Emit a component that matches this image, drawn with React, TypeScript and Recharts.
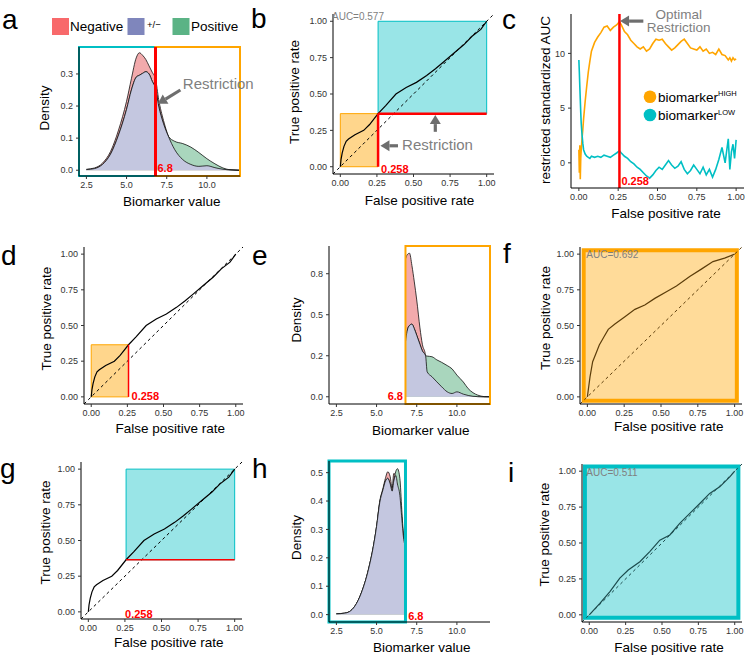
import React from 'react';
import {
  ComposedChart,
  Line,
  Area,
  XAxis,
  YAxis,
  ReferenceArea,
  ReferenceLine,
  ReferenceDot,
} from 'recharts';

const FONT = '"Liberation Sans", Arial, Helvetica, sans-serif';

const NEG = '#F8696B';
const MIX = '#7F86BC';
const POS = '#5BB385';
const NEG_FILL = '#F2AAAC';
const MIX_FILL = '#C4C7E0';
const POS_FILL = '#A9D6BD';
const ORANGE = '#FFA500';
const CYAN = '#00BFC4';
const RED = '#FF0000';
const GREY = '#7F7F7F';
const ARROW = '#6E6E6E';
// curve colours as seen through the tinted panels
const UNDER_ORANGE = '#5C3D0A';
const UNDER_CYAN = '#1B4B4D';

// restriction found by the sweep
const cutValue = 6.8;
const cutFpr = 0.258;
const cutTpr = 0.365;
const aucAll = '0.577';
const aucHigh = '0.692';
const aucLow = '0.511';

// tick positions and labels
const valueTicks = [2.5, 5, 7.5, 10];
const valueTickLabels = ['2.5', '5.0', '7.5', '10.0'];
const rateTicks = [0, 0.25, 0.5, 0.75, 1];
const rateTickLabels = ['0.00', '0.25', '0.50', '0.75', '1.00'];
const aDensTicks = [0, 0.1, 0.2, 0.3];
const aDensTickLabels = ['0.0', '0.1', '0.2', '0.3'];
const eDensTicks = [0, 0.25, 0.5, 0.75];
const eDensTickLabels = ['0.0', '0.2', '0.5', '0.8'];
const hDensTicks = [0, 0.1, 0.2, 0.3, 0.4, 0.5];
const hDensTickLabels = ['0.0', '0.1', '0.2', '0.3', '0.4', '0.5'];
const sweepTicks = [0, 5, 10];
const sweepTickLabels = ['0', '5', '10'];

// a: densities over all biomarker values
const densX = [2.5, 3.0, 3.5, 4.0, 4.5, 5.0, 5.3, 5.6, 5.8, 6.0, 6.2, 6.4, 6.6, 6.8, 7.0, 7.3, 7.6, 8.0, 8.5, 9.0, 9.5, 10.0, 10.5, 11.0, 11.5, 12.0];
const densNeg = [0.003, 0.007, 0.022, 0.058, 0.125, 0.215, 0.285, 0.35, 0.366, 0.358, 0.345, 0.325, 0.305, 0.285, 0.22, 0.155, 0.106, 0.064, 0.033, 0.018, 0.012, 0.014, 0.008, 0.003, 0.001, 0];
const densPos = [0.002, 0.005, 0.018, 0.05, 0.11, 0.19, 0.25, 0.29, 0.296, 0.302, 0.307, 0.3, 0.277, 0.255, 0.2, 0.145, 0.106, 0.09, 0.083, 0.072, 0.055, 0.036, 0.02, 0.007, 0.001, 0];
const densMix = [0.002, 0.005, 0.018, 0.05, 0.11, 0.19, 0.25, 0.29, 0.296, 0.302, 0.307, 0.3, 0.277, 0.255, 0.2, 0.145, 0.106, 0.064, 0.033, 0.018, 0.012, 0.014, 0.008, 0.003, 0.001, 0];

// e: densities above the cut
const eX = [6.8, 6.9, 7.05, 7.2, 7.35, 7.5, 7.7, 7.85, 8.05, 8.15, 8.45, 8.75, 9.05, 9.4, 9.7, 10.0, 10.4, 10.7, 11.0, 11.3, 11.7, 12.0];
const eNeg = [0.84, 0.865, 0.875, 0.8, 0.7, 0.59, 0.42, 0.32, 0.25, 0.152, 0.122, 0.091, 0.061, 0.03, 0.02, 0.03, 0.016, 0.008, 0.003, 0.001, 0, 0];
const ePos = [0.335, 0.4, 0.435, 0.443, 0.415, 0.375, 0.32, 0.28, 0.25, 0.248, 0.244, 0.225, 0.21, 0.19, 0.17, 0.132, 0.09, 0.05, 0.025, 0.01, 0.001, 0];
const eMix = [0.335, 0.4, 0.435, 0.443, 0.415, 0.375, 0.32, 0.28, 0.25, 0.152, 0.122, 0.091, 0.061, 0.03, 0.02, 0.03, 0.016, 0.008, 0.003, 0.001, 0, 0];

// h: densities below the cut
const hX = [2.5, 3.0, 3.3, 3.65, 4.05, 4.5, 4.8, 5.0, 5.2, 5.4, 5.55, 5.7, 5.85, 5.97, 6.07, 6.2, 6.3, 6.45, 6.57, 6.68, 6.8];
const hNeg = [0.003, 0.005, 0.01, 0.03, 0.076, 0.16, 0.24, 0.31, 0.4, 0.445, 0.48, 0.503, 0.485, 0.445, 0.497, 0.49, 0.46, 0.42, 0.34, 0.27, 0.24];
const hPos = [0.003, 0.005, 0.01, 0.03, 0.076, 0.16, 0.24, 0.31, 0.395, 0.44, 0.47, 0.48, 0.46, 0.435, 0.47, 0.505, 0.514, 0.48, 0.37, 0.28, 0.25];
const hMix = [0.003, 0.005, 0.01, 0.03, 0.076, 0.16, 0.24, 0.31, 0.395, 0.44, 0.47, 0.48, 0.46, 0.435, 0.47, 0.49, 0.46, 0.42, 0.34, 0.27, 0.24];

// b, d, g: full ROC curve
const rocFpr = [0, 0.005, 0.013, 0.025, 0.04, 0.056, 0.1, 0.16, 0.2, 0.258, 0.31, 0.38, 0.45, 0.52, 0.59, 0.65, 0.705, 0.775, 0.845, 0.9, 0.96, 1];
const rocTpr = [0, 0.05, 0.095, 0.14, 0.175, 0.19, 0.22, 0.25, 0.29, 0.365, 0.42, 0.5, 0.545, 0.58, 0.627, 0.674, 0.72, 0.78, 0.84, 0.897, 0.944, 1];

// f: ROC of the high part
const highFpr = [0, 0.018, 0.036, 0.063, 0.081, 0.113, 0.142, 0.187, 0.255, 0.323, 0.39, 0.458, 0.537, 0.605, 0.695, 0.774, 0.853, 0.932, 1];
const highTpr = [0, 0.14, 0.246, 0.316, 0.363, 0.421, 0.473, 0.51, 0.562, 0.613, 0.644, 0.69, 0.737, 0.777, 0.843, 0.895, 0.948, 0.972, 1];

// i: ROC of the low part
const lowFpr = [0, 0.073, 0.142, 0.21, 0.268, 0.348, 0.416, 0.485, 0.554, 0.622, 0.691, 0.76, 0.828, 0.897, 0.966, 1];
const lowTpr = [0, 0.08, 0.162, 0.255, 0.312, 0.37, 0.44, 0.52, 0.556, 0.637, 0.706, 0.775, 0.845, 0.891, 0.96, 1];

// c: restricted standardized AUC along the FPR sweep
const sweepFpr = [0, 0.003, 0.006, 0.009, 0.012, 0.015, 0.02, 0.025, 0.03, 0.04,
  0.05, 0.06, 0.07, 0.08, 0.1, 0.12, 0.14, 0.16, 0.18, 0.2,
  0.22, 0.24, 0.258, 0.27, 0.29, 0.31, 0.33, 0.35, 0.37, 0.39,
  0.41, 0.43, 0.45, 0.47, 0.49, 0.51, 0.53, 0.55, 0.57, 0.59,
  0.61, 0.63, 0.65, 0.67, 0.69, 0.71, 0.73, 0.75, 0.77, 0.79,
  0.81, 0.83, 0.85, 0.87, 0.89, 0.91, 0.93, 0.95, 0.96, 0.97,
  0.98, 0.99, 1.0];
const sweepHigh = [1.2, -0.9, 1.6, -1.5, 0.4, 1.2, 2.2, 3.0, 4.0, 5.6,
  7.0, 8.3, 9.3, 10.2, 11.0, 11.5, 11.9, 12.4, 12.5, 12.1,
  12.4, 12.6, 12.9, 12.6, 12.0, 11.7, 11.2, 10.9, 10.6, 10.4,
  10.6, 10.2, 10.4, 10.9, 11.3, 11.2, 11.3, 10.9, 10.6, 10.3,
  10.5, 10.8, 11.1, 11.3, 10.9, 10.5, 10.4, 10.3, 10.6, 10.2,
  10.4, 10.0, 10.1, 9.9, 10.4, 9.9, 9.8, 9.4, 9.6, 9.3,
  9.6, 9.4, 9.5];
const sweepLow = [9.4, 8.3, 7.0, 5.8, 4.6, 3.6, 2.6, 1.8, 1.2, 0.8,
  0.6, 0.5, 0.4, 0.6, 0.5, 0.6, 0.5, 0.7, 0.6, 0.5,
  0.7, 0.9, 1.1, 0.9, 0.6, 0.4, 0.1, -0.1, -0.4, -0.6,
  -0.9, -1.2, -1.4, -1.1, -0.7, -0.4, -0.6, -0.2, 0.2, -0.2,
  -0.5, -0.3, 0.1, -0.6, -1.0, -0.7, -0.2, -0.6, -1.0, -0.4,
  -1.1, -0.6, -1.3, -0.6, 0.3, 1.4, 0.0, 2.2, -0.6, 1.0,
  1.7, 0.4, 2.1];

const densTable = densX.map((x, i) => ({ x, neg: densNeg[i], pos: densPos[i], mix: densMix[i] }));
const eTable = eX.map((x, i) => ({ x, neg: eNeg[i], pos: ePos[i], mix: eMix[i] }));
const hTable = hX.map((x, i) => ({ x, neg: hNeg[i], pos: hPos[i], mix: hMix[i] }));
const rocTable = rocFpr.map((x, i) => ({ x, tpr: rocTpr[i] }));
const highTable = highFpr.map((x, i) => ({ x, tpr: highTpr[i] }));
const lowTable = lowFpr.map((x, i) => ({ x, tpr: lowTpr[i] }));
const sweepTable = sweepFpr.map((x, i) => ({ x, high: sweepHigh[i], low: sweepLow[i] }));

const valueDomain = [2.04, 12.06];
const rateDomain = [-0.05, 1.05];

function arrowShape(p: any) {
  const { x1, y1, x2, y2 } = p;
  const a = Math.atan2(y2 - y1, x2 - x1);
  const head = 9;
  const half = 5.5;
  const bx = x2 - head * Math.cos(a);
  const by = y2 - head * Math.sin(a);
  const nx = -Math.sin(a) * half;
  const ny = Math.cos(a) * half;
  return (
    <g>
      <line x1={x1} y1={y1} x2={bx} y2={by} stroke={ARROW} strokeWidth={3.2} />
      <polygon points={`${x2},${y2} ${bx + nx},${by + ny} ${bx - nx},${by - ny}`} fill={ARROW} />
    </g>
  );
}

// text placed at a data point, nudged by dx/dy pixels
function note(label: string, dx: number, dy: number, style: any) {
  return (p: any) => (
    <text x={p.cx + dx} y={p.cy + dy} fontFamily={FONT} {...style}>
      {label}
    </text>
  );
}

const redLabel = { fill: RED, fontSize: 11, fontWeight: 'bold' };
const aucLabel = { fill: GREY, fontSize: 10 };

function Frame({ box, data, xDomain, yDomain, xTicks, xLabels, yTicks, yLabels, children }: any) {
  const [x0, y0, x1, y1] = box;
  const L = 45;
  const T = 30;
  const R = 30;
  const B = 25;
  const tick = { fontSize: 9, fill: '#333', fontFamily: FONT };
  return (
    <div style={{ position: 'absolute', left: x0 - L, top: y0 - T }}>
      <ComposedChart
        width={x1 - x0 + L + R}
        height={y1 - y0 + T + B}
        data={data}
        margin={{ top: T, right: R, bottom: 5, left: 5 }}
      >
        <XAxis
          type="number"
          dataKey="x"
          domain={xDomain}
          ticks={xTicks}
          interval={0}
          allowDataOverflow
          height={20}
          tickFormatter={(v: number) => xLabels[xTicks.indexOf(v)]}
          axisLine={{ stroke: '#000' }}
          tickLine={{ stroke: '#333' }}
          tickSize={3}
          tickMargin={3}
          tick={tick}
        />
        <YAxis
          type="number"
          domain={yDomain}
          ticks={yTicks}
          interval={0}
          allowDataOverflow
          width={40}
          tickFormatter={(v: number) => yLabels[yTicks.indexOf(v)]}
          axisLine={{ stroke: '#000' }}
          tickLine={{ stroke: '#333' }}
          tickSize={3}
          tickMargin={3}
          tick={tick}
        />
        {children}
      </ComposedChart>
    </div>
  );
}

function densityAreas() {
  const common = {
    type: 'monotone' as const,
    stroke: '#111',
    strokeWidth: 0.8,
    fillOpacity: 1,
    baseValue: 0,
    dot: false,
    activeDot: false,
    isAnimationActive: false,
  };
  return [
    <Area key="neg" dataKey="neg" name="Negative" fill={NEG_FILL} {...common} />,
    <Area key="pos" dataKey="pos" name="Positive" fill={POS_FILL} {...common} />,
    <Area key="mix" dataKey="mix" name="+/−" fill={MIX_FILL} {...common} />,
  ];
}

function rocLine(color = '#000') {
  return (
    <Line
      key="roc"
      dataKey="tpr"
      type="linear"
      stroke={color}
      strokeWidth={1.2}
      dot={false}
      activeDot={false}
      isAnimationActive={false}
    />
  );
}

function chance(color = '#000') {
  return (
    <ReferenceLine
      key="chance"
      segment={[{ x: -0.05, y: -0.05 }, { x: 1.05, y: 1.05 }]}
      stroke={color}
      strokeWidth={1}
      strokeDasharray="3 3"
      ifOverflow="visible"
    />
  );
}

function PanelA() {
  return (
    <Frame box={[79, 47, 240, 176]} data={densTable} xDomain={valueDomain} yDomain={[-0.018, 0.384]}
      xTicks={valueTicks} xLabels={valueTickLabels} yTicks={aDensTicks} yLabels={aDensTickLabels}>
      {densityAreas()}
      <ReferenceArea x1={valueDomain[0]} x2={cutValue} y1={-0.018} y2={0.384} fill="none" stroke={CYAN} strokeWidth={2} ifOverflow="visible" />
      <ReferenceArea x1={cutValue} x2={valueDomain[1]} y1={-0.018} y2={0.384} fill="none" stroke={ORANGE} strokeWidth={2} ifOverflow="visible" />
      <ReferenceLine x={cutValue} stroke={RED} strokeWidth={3} />
      <ReferenceLine segment={[{ x: 8.35, y: 0.25 }, { x: 6.95, y: 0.207 }]} shape={arrowShape} ifOverflow="visible" />
      <ReferenceDot x={8.5} y={0.252} ifOverflow="visible" shape={note('Restriction', 0, 0, { fill: GREY, fontSize: 15 })} />
      <ReferenceDot x={cutValue} y={0} ifOverflow="visible" shape={note(String(cutValue), 2, 2, redLabel)} />
    </Frame>
  );
}

function PanelB() {
  return (
    <Frame box={[333, 14, 494, 174]} data={rocTable} xDomain={rateDomain} yDomain={rateDomain}
      xTicks={rateTicks} xLabels={rateTickLabels} yTicks={rateTicks} yLabels={rateTickLabels}>
      {chance()}
      {rocLine()}
      <ReferenceArea x1={0} x2={cutFpr} y1={0} y2={cutTpr} fill={ORANGE} fillOpacity={0.45} stroke={ORANGE} strokeWidth={1} ifOverflow="visible" />
      <ReferenceArea x1={cutFpr} x2={1} y1={cutTpr} y2={1} fill={CYAN} fillOpacity={0.4} stroke={CYAN} strokeWidth={1} ifOverflow="visible" />
      <ReferenceLine segment={[{ x: cutFpr, y: 0 }, { x: cutFpr, y: cutTpr }]} stroke={RED} strokeWidth={2.5} ifOverflow="visible" />
      <ReferenceLine segment={[{ x: cutFpr, y: cutTpr }, { x: 1, y: cutTpr }]} stroke={RED} strokeWidth={2.5} ifOverflow="visible" />
      <ReferenceLine segment={[{ x: 0.394, y: 0.144 }, { x: 0.274, y: 0.144 }]} shape={arrowShape} ifOverflow="visible" />
      <ReferenceLine segment={[{ x: 0.649, y: 0.24 }, { x: 0.649, y: 0.355 }]} shape={arrowShape} ifOverflow="visible" />
      <ReferenceDot x={0.422} y={0.115} ifOverflow="visible" shape={note('Restriction', 0, 0, { fill: GREY, fontSize: 15 })} />
      <ReferenceDot x={cutFpr} y={0} ifOverflow="visible" shape={note(String(cutFpr), 3, 6.6, redLabel)} />
      <ReferenceDot x={-0.05} y={1.05} ifOverflow="visible" shape={note(`AUC=${aucAll}`, -1, 6, aucLabel)} />
    </Frame>
  );
}

function PanelC() {
  return (
    <Frame box={[571, 14, 744, 188]} data={sweepTable} xDomain={rateDomain} yDomain={[-2.3, 13.6]}
      xTicks={rateTicks} xLabels={rateTickLabels} yTicks={sweepTicks} yLabels={sweepTickLabels}>
      <Line dataKey="high" name="biomarker HIGH" type="linear" stroke={ORANGE} strokeWidth={1.6} dot={false} activeDot={false} isAnimationActive={false} />
      <Line dataKey="low" name="biomarker LOW" type="linear" stroke={CYAN} strokeWidth={1.6} dot={false} activeDot={false} isAnimationActive={false} />
      <ReferenceLine x={cutFpr} stroke={RED} strokeWidth={2.5} />
      <ReferenceLine segment={[{ x: 0.41, y: 12.95 }, { x: 0.262, y: 12.95 }]} shape={arrowShape} ifOverflow="visible" />
      <ReferenceDot
        x={0.635}
        y={13.1}
        ifOverflow="visible"
        shape={(p: any) => (
          <text x={p.cx} y={p.cy} fontFamily={FONT} fontSize={13.5} fill={GREY} textAnchor="middle">
            <tspan x={p.cx}>Optimal</tspan>
            <tspan x={p.cx} dy={12.4}>Restriction</tspan>
          </text>
        )}
      />
      <ReferenceDot x={cutFpr} y={-2.3} ifOverflow="visible" shape={note(String(cutFpr), 2, -3, redLabel)} />
    </Frame>
  );
}

function PanelD() {
  return (
    <Frame box={[84, 247, 243, 404]} data={rocTable} xDomain={rateDomain} yDomain={rateDomain}
      xTicks={rateTicks} xLabels={rateTickLabels} yTicks={rateTicks} yLabels={rateTickLabels}>
      {chance()}
      {rocLine()}
      <ReferenceArea x1={0} x2={cutFpr} y1={0} y2={cutTpr} fill={ORANGE} fillOpacity={0.45} stroke={ORANGE} strokeWidth={1} ifOverflow="visible" />
      <ReferenceLine segment={[{ x: cutFpr, y: 0 }, { x: cutFpr, y: cutTpr }]} stroke={RED} strokeWidth={1.5} ifOverflow="visible" />
      <ReferenceDot x={cutFpr} y={0} ifOverflow="visible" shape={note(String(cutFpr), 3, 3.2, redLabel)} />
    </Frame>
  );
}

function PanelE() {
  return (
    <Frame box={[329, 246, 490, 404]} data={eTable} xDomain={valueDomain} yDomain={[-0.044, 0.919]}
      xTicks={valueTicks} xLabels={valueTickLabels} yTicks={eDensTicks} yLabels={eDensTickLabels}>
      {densityAreas()}
      <ReferenceArea x1={cutValue} x2={valueDomain[1]} y1={-0.044} y2={0.919} fill="none" stroke={ORANGE} strokeWidth={2} ifOverflow="visible" />
      <ReferenceDot x={cutValue} y={0} ifOverflow="visible" shape={note(String(cutValue), -2.5, 3.2, { ...redLabel, textAnchor: 'end' })} />
    </Frame>
  );
}

function PanelF() {
  return (
    <Frame box={[580, 247, 742, 404]} data={highTable} xDomain={rateDomain} yDomain={rateDomain}
      xTicks={rateTicks} xLabels={rateTickLabels} yTicks={rateTicks} yLabels={rateTickLabels}>
      <ReferenceArea x1={-0.025} x2={1.015} y1={-0.027} y2={1.028} fill={ORANGE} fillOpacity={0.4} stroke={ORANGE} strokeWidth={4} ifOverflow="visible" />
      {chance(UNDER_ORANGE)}
      {rocLine(UNDER_ORANGE)}
      <ReferenceDot x={0} y={1} ifOverflow="visible" shape={note(`AUC=${aucHigh}`, -1, 3.5, aucLabel)} />
    </Frame>
  );
}

function PanelG() {
  return (
    <Frame box={[81, 462, 242, 619]} data={rocTable} xDomain={rateDomain} yDomain={rateDomain}
      xTicks={rateTicks} xLabels={rateTickLabels} yTicks={rateTicks} yLabels={rateTickLabels}>
      {chance()}
      {rocLine()}
      <ReferenceArea x1={cutFpr} x2={1} y1={cutTpr} y2={1} fill={CYAN} fillOpacity={0.4} stroke={CYAN} strokeWidth={1} ifOverflow="visible" />
      <ReferenceLine segment={[{ x: cutFpr, y: cutTpr }, { x: 1, y: cutTpr }]} stroke={RED} strokeWidth={1.5} ifOverflow="visible" />
      <ReferenceDot x={cutFpr} y={0} ifOverflow="visible" shape={note(String(cutFpr), -1, 6, redLabel)} />
    </Frame>
  );
}

function PanelH() {
  return (
    <Frame box={[329, 461, 490, 622]} data={hTable} xDomain={valueDomain} yDomain={[-0.026, 0.541]}
      xTicks={valueTicks} xLabels={valueTickLabels} yTicks={hDensTicks} yLabels={hDensTickLabels}>
      {densityAreas()}
      <ReferenceArea x1={valueDomain[0]} x2={cutValue} y1={-0.026} y2={0.541} fill="none" stroke={CYAN} strokeWidth={3} ifOverflow="visible" />
      <ReferenceDot x={cutValue} y={0} ifOverflow="visible" shape={note(String(cutValue), 2.7, 5.4, redLabel)} />
    </Frame>
  );
}

function PanelI() {
  return (
    <Frame box={[582, 464, 742, 622]} data={lowTable} xDomain={rateDomain} yDomain={rateDomain}
      xTicks={rateTicks} xLabels={rateTickLabels} yTicks={rateTicks} yLabels={rateTickLabels}>
      <ReferenceArea x1={-0.03} x2={1.025} y1={-0.02} y2={1.033} fill={CYAN} fillOpacity={0.4} stroke={CYAN} strokeWidth={4} ifOverflow="visible" />
      {chance(UNDER_CYAN)}
      {rocLine(UNDER_CYAN)}
      <ReferenceDot x={-0.02} y={0.99} ifOverflow="visible" shape={note(`AUC=${aucLow}`, 0, 3.5, aucLabel)} />
    </Frame>
  );
}

const letters: [string, number, number][] = [
  ['a', 2, 29], ['b', 251, 28], ['c', 502, 29],
  ['d', 1, 265], ['e', 252, 265], ['f', 503, 263],
  ['g', 0, 478], ['h', 252, 478], ['i', 508, 482],
];

function Overlay() {
  const t = { fontFamily: FONT, fontSize: 13.5, fill: '#000', textAnchor: 'middle' as const, dominantBaseline: 'central' as const };
  const vt = (label: string, x: number, y: number) => (
    <text key={`${label}${x}${y}`} x={x} y={y} {...t} transform={`rotate(-90 ${x} ${y})`}>{label}</text>
  );
  const ht = (label: string, x: number, y: number) => (
    <text key={`${label}${x}${y}`} x={x} y={y} {...t}>{label}</text>
  );
  return (
    <svg width={750} height={665} style={{ position: 'absolute', left: 0, top: 0, pointerEvents: 'none' }}>
      {letters.map(([l, x, y]) => (
        <text key={l} x={x} y={y} fontFamily={FONT} fontSize={28} fill="#000">{l}</text>
      ))}
      {/* legend of a */}
      <rect x={52} y={18} width={17} height={17} fill={NEG} />
      <text x={70} y={30.5} fontFamily={FONT} fontSize={13.5}>Negative</text>
      <rect x={127.5} y={18} width={17} height={17} fill={MIX} />
      <text x={147} y={28.3} fontFamily={FONT} fontSize={9.5}>+/−</text>
      <rect x={172.5} y={18} width={17} height={17} fill={POS} />
      <text x={191} y={30.5} fontFamily={FONT} fontSize={13.5}>Positive</text>
      {/* legend of c */}
      <circle cx={650} cy={96.7} r={6.3} fill={ORANGE} />
      <text x={658} y={101.7} fontFamily={FONT} fontSize={13.5}>
        biomarker<tspan fontSize={7.5} dy={-5.5}>HIGH</tspan>
      </text>
      <circle cx={650} cy={115} r={6.3} fill={CYAN} />
      <text x={658} y={120} fontFamily={FONT} fontSize={13.5}>
        biomarker<tspan fontSize={7.5} dy={-5.5}>LOW</tspan>
      </text>
      {/* axis titles */}
      {vt('Density', 44.7, 108)}
      {ht('Biomarker value', 171.8, 201.7)}
      {vt('True positive rate', 294.3, 92)}
      {ht('False positive rate', 419.5, 200)}
      {vt('restricted standardized AUC', 545, 100)}
      {ht('False positive rate', 666, 213)}
      {vt('True positive rate', 46.7, 318.7)}
      {ht('False positive rate', 170.3, 428.3)}
      {vt('Density', 296.7, 320)}
      {ht('Biomarker value', 420.8, 430)}
      {vt('True positive rate', 545, 318)}
      {ht('False positive rate', 668.7, 426.7)}
      {vt('True positive rate', 45, 532.5)}
      {ht('False positive rate', 168.7, 642.7)}
      {vt('Density', 296.7, 537.5)}
      {ht('Biomarker value', 421.7, 647.3)}
      {vt('True positive rate', 545, 534.7)}
      {ht('False positive rate', 669, 647.3)}
    </svg>
  );
}

export default function App() {
  return (
    <div style={{ position: 'absolute', left: 0, top: 0, width: 750, height: 665, background: '#fff', fontFamily: FONT }}>
      <PanelA />
      <PanelB />
      <PanelC />
      <PanelD />
      <PanelE />
      <PanelF />
      <PanelG />
      <PanelH />
      <PanelI />
      <Overlay />
    </div>
  );
}
